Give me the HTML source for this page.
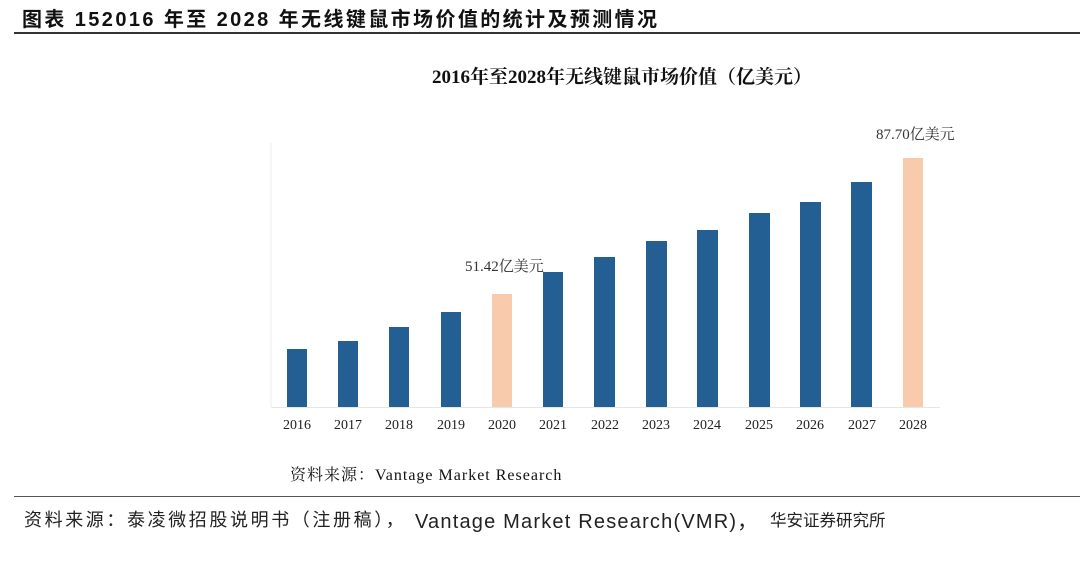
<!DOCTYPE html>
<html><head><meta charset="utf-8"><style>
body{margin:0;width:1080px;height:567px;background:#fff;position:relative;overflow:hidden;font-family:"Liberation Sans","Noto Sans CJK SC",sans-serif}
.a{position:absolute;white-space:nowrap}
.s{font-family:"Liberation Serif","Noto Serif CJK SC",serif}
</style></head><body>
<div class="a" style="left:22px;top:3px;font-size:20px;letter-spacing:2.4px;font-weight:bold;color:#111">图表 152016 年至 2028 年无线键鼠市场价值的统计及预测情况</div>
<div class="a" style="left:14px;top:32px;width:1066px;height:2px;background:#333"></div>
<div class="a s" style="left:432px;top:62px;font-size:19px;font-weight:bold;color:#111">2016年至2028年无线键鼠市场价值（亿美元）</div>
<svg class="a" style="left:0;top:0" width="1080" height="567">
<line x1="271" y1="143" x2="271" y2="407" stroke="#eee"/>
<line x1="271" y1="407.5" x2="940" y2="407.5" stroke="#e6e6e6"/>
<g fill="#245f93">
<rect x="287" y="349" width="20" height="58"/>
<rect x="338" y="341" width="20" height="66"/>
<rect x="389" y="327" width="20" height="80"/>
<rect x="441" y="312" width="20" height="95"/>
<rect x="543" y="272" width="20" height="135"/>
<rect x="594" y="257" width="21" height="150"/>
<rect x="646" y="241" width="21" height="166"/>
<rect x="697" y="230" width="21" height="177"/>
<rect x="749" y="213" width="21" height="194"/>
<rect x="800" y="202" width="21" height="205"/>
<rect x="851" y="182" width="21" height="225"/>
</g>
<g fill="#f8cbad">
<rect x="492" y="294" width="20" height="113"/>
<rect x="903" y="158" width="20" height="249"/>
</g>
<g font-family="Liberation Serif,serif" font-size="14" fill="#222" text-anchor="middle">
<text x="297" y="429">2016</text><text x="348" y="429">2017</text><text x="399" y="429">2018</text><text x="451" y="429">2019</text><text x="502" y="429">2020</text><text x="553" y="429">2021</text><text x="605" y="429">2022</text><text x="656" y="429">2023</text><text x="707" y="429">2024</text><text x="759" y="429">2025</text><text x="810" y="429">2026</text><text x="862" y="429">2027</text><text x="913" y="429">2028</text>
</g>
<g font-family="Liberation Serif,Noto Serif CJK SC,serif" font-size="15" fill="#333">
<text x="465" y="271">51.42亿美元</text>
<text x="876" y="139">87.70亿美元</text>
</g>
</svg>
<div class="a s" style="left:290px;top:462px;font-size:16px;letter-spacing:1px;color:#111">资料来源：Vantage Market Research</div>
<div class="a" style="left:14px;top:496px;width:1066px;height:1px;background:#555"></div>
<div class="a" style="left:24px;top:506px;font-size:18px;letter-spacing:2.6px;color:#222">资料来源：泰凌微招股说明书（注册稿），</div>
<div class="a" style="left:415px;top:505px;font-size:20px;letter-spacing:1.2px;color:#222">Vantage Market Research(VMR)，</div>
<div class="a" style="left:770px;top:507px;font-size:16.5px;letter-spacing:0px;color:#222">华安证券研究所</div>
</body></html>
